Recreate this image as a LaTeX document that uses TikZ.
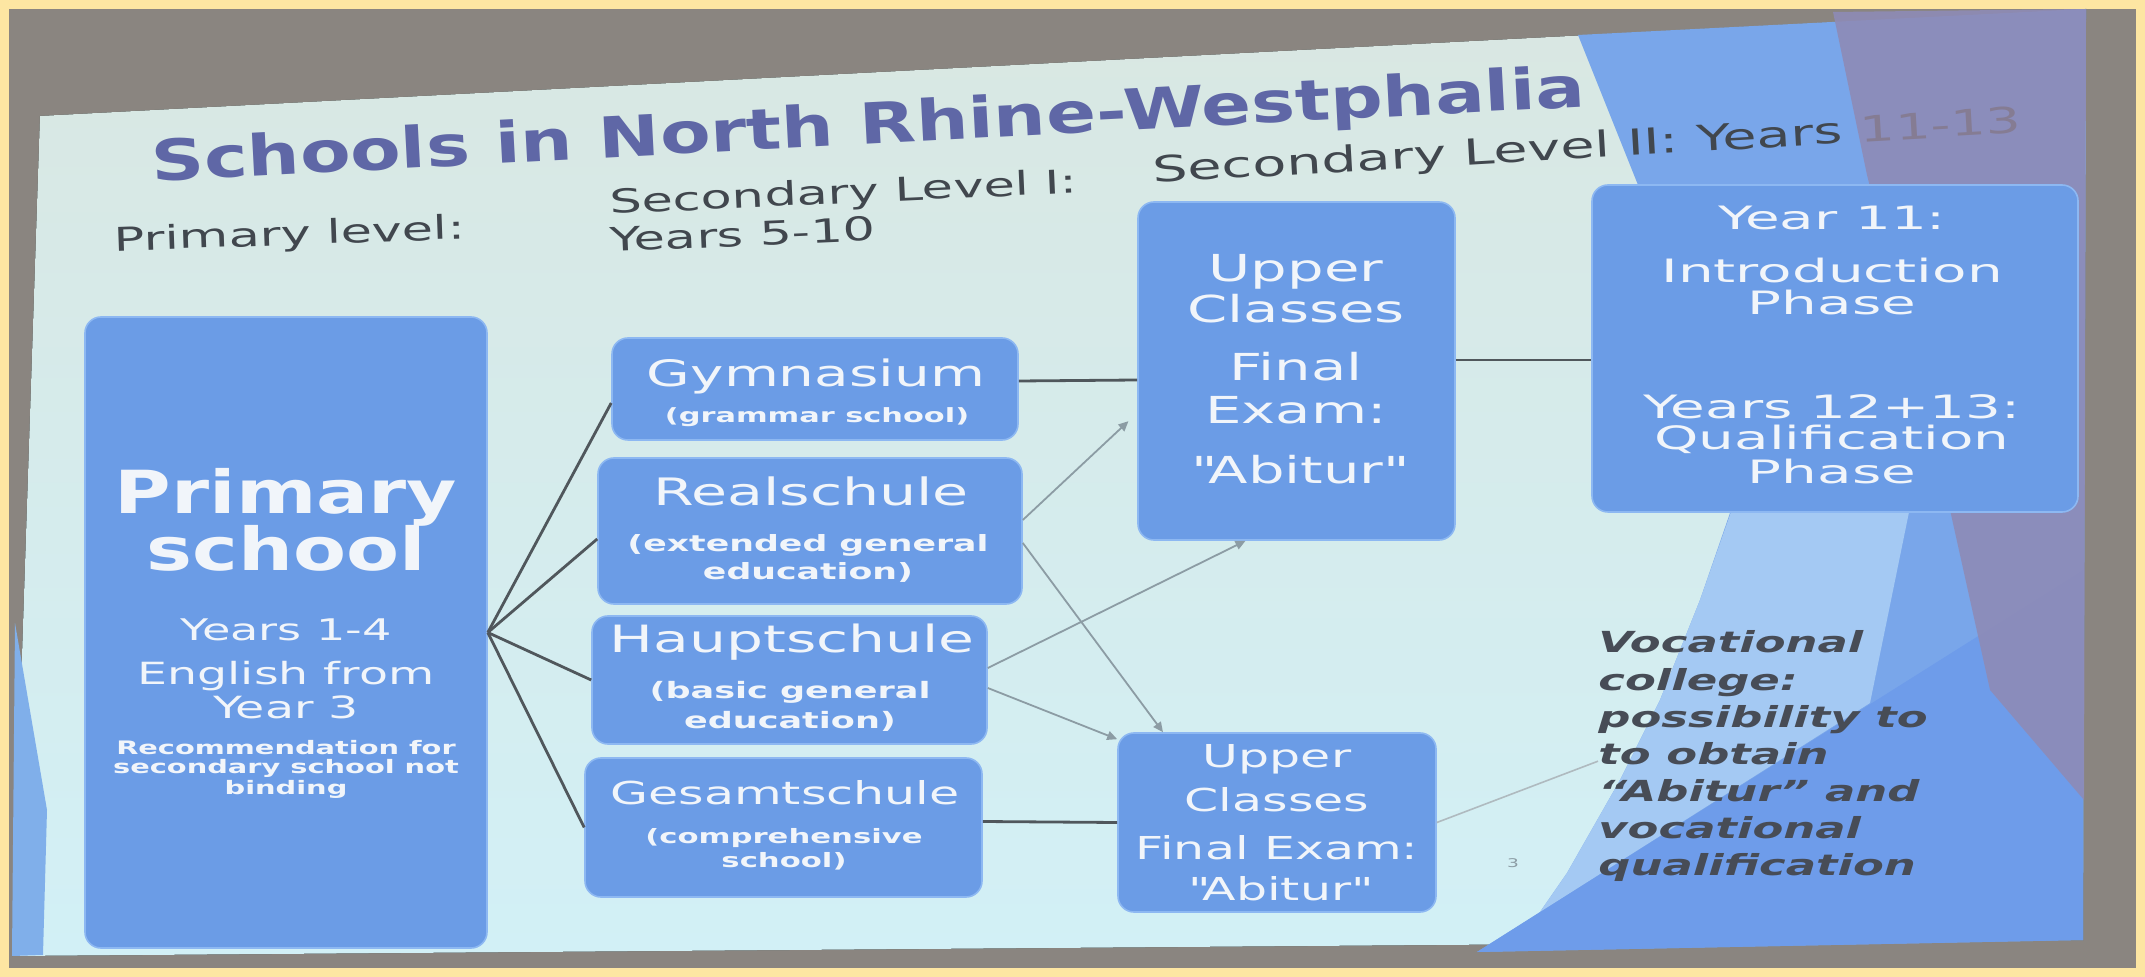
\documentclass[tikz,border=0pt]{standalone}
\usepackage{fontspec}
\setmainfont{DejaVu Sans}[FakeStretch=1.55]
\newfontfamily\bigfont{DejaVu Sans}[FakeStretch=1.3]
\newfontfamily\widefont{DejaVu Sans}[FakeStretch=1.75]
\usetikzlibrary{calc,arrows.meta}
\definecolor{frameY}{HTML}{FDE6A2}
\definecolor{wall}{HTML}{8A8580}
\definecolor{slideTop}{HTML}{D9E7E2}
\definecolor{slideBot}{HTML}{D2F0F6}
\definecolor{bandBlue}{HTML}{79A6EA}
\definecolor{lightWedge}{HTML}{A4C9F3}
\definecolor{darkTri}{HTML}{6E9CEA}
\definecolor{purpleGrey}{HTML}{8E8BB6}
\definecolor{leftWedge}{HTML}{80AFEA}
\definecolor{boxFill}{HTML}{6B9CE6}
\definecolor{boxEdge}{HTML}{8DB8F2}
\definecolor{boxText}{HTML}{F1F5FA}
\definecolor{titleCol}{HTML}{5F67A6}
\definecolor{headCol}{HTML}{41474E}
\definecolor{faintCol}{HTML}{857C93}
\definecolor{lineDark}{HTML}{50575C}
\definecolor{lineLight}{HTML}{8C9CA4}
\definecolor{vocCol}{HTML}{474C56}
\newcommand{\fsz}[1]{\fontsize{#1}{#1}\selectfont}
\newcommand{\sq}{\XeTeXglyph\XeTeXcharglyph"22\relax}
\tikzset{
  schoolbox/.style={draw=boxEdge, line width=0.8pt, fill=boxFill, rounded corners=8pt, inner sep=0pt},
  boxtxt/.style={text=boxText, inner sep=0pt, anchor=base},
  headtxt/.style={text=headCol, inner sep=0pt, anchor=base west},
  voctxt/.style={text=vocCol, inner sep=0pt, anchor=base west, font=\bfseries\itshape\fsz{14.5}},
  darkline/.style={draw=lineDark, line width=1.4pt},
  thinarrow/.style={draw=lineLight, line width=0.9pt, -{Triangle[length=5pt,width=4.5pt]}},
  thinline/.style={draw=lineLight!70!white, line width=0.8pt},
}
\begin{document}
\begin{tikzpicture}[x=0.5pt,y=-0.5pt]
\useasboundingbox (0,0) rectangle (2145,977);
% photo frame and wall
\fill[frameY] (0,0) rectangle (2145,977);
\fill[wall] (9,9) rectangle (2136,968);
% slide
\fill[top color=slideTop, bottom color=slideBot] (40,116) -- (2086,9) -- (2083,940) -- (12,956) -- cycle;
\fill[leftWedge] (15,623) -- (47,810) -- (43,955) -- (12,956) -- cycle;
% right-hand decoration
\fill[bandBlue] (1578,35) -- (2086,9) -- (2083,940) -- (1477,952) -- (1540,912) -- (1567,873) -- (1620,780)
  -- (1660,700) -- (1700,600) -- (1731,510) -- (1660,250) -- (1640,190) -- cycle;
\fill[lightWedge] (1731,512) -- (1909,512) -- (1870,703) -- (1540,912) -- (1567,873) -- (1620,780) -- (1660,700) -- (1700,600) -- cycle;
\fill[darkTri] (1477,952) -- (2083,570) -- (2083,940) -- cycle;
\fill[purpleGrey, opacity=0.9] (1833,12) -- (2086,9) -- (2084,800) -- (1990,690) -- (1950,510) -- (1867,175) -- cycle;

% title and headers
\node[text=titleCol, font=\bigfont\bfseries\fsz{28.3}, inner sep=0pt, anchor=base, rotate=3] (title) at (869,144) {Schools in North Rhine-Westphalia};
\node[text=headCol, font=\fsz{16.4}, inner sep=0pt, anchor=base, rotate=2] (hPrim) at (290,245) {Primary level:};
\node[headtxt, font=\fsz{16.4}, rotate=2.6] (hSecA) at (610,214) {Secondary Level I:};
\node[headtxt, font=\fsz{16.4}, rotate=2.5] (hSecB) at (610,252) {Years 5-10};
\node[headtxt, font=\fsz{17.9}, rotate=3.3] (hSecII) at (1153,183) {Secondary Level II: Years {\color{faintCol}11-13}};

% boxes
\node[schoolbox, minimum width=201pt, minimum height=315.5pt] (primary) at (286,632.5) {};
\node[schoolbox, minimum width=203pt, minimum height=51pt] (gym) at (815,389) {};
\node[schoolbox, minimum width=212pt, minimum height=73pt] (real) at (810,531) {};
\node[schoolbox, minimum width=197.5pt, minimum height=64pt] (haupt) at (789.5,680) {};
\node[schoolbox, minimum width=198.5pt, minimum height=69.5pt] (gesamt) at (783.5,827.5) {};
\node[schoolbox, minimum width=158.5pt, minimum height=169pt] (upperA) at (1296.5,371) {};
\node[schoolbox, minimum width=243pt, minimum height=163.5pt] (phases) at (1835,348.5) {};
\node[schoolbox, minimum width=159pt, minimum height=89.5pt] (upperB) at (1277,822.5) {};

% primary school text
\node[boxtxt, font=\bigfont\bfseries\fsz{29.7}] (pA) at (286,514) {Primary};
\node[boxtxt, font=\bigfont\bfseries\fsz{29.7}] (pB) at (286,571) {school};
\node[boxtxt, font=\fsz{14.9}] (pC) at (286,640) {Years 1-4};
\node[boxtxt, font=\fsz{15.3}] (pD) at (286,684) {English from};
\node[boxtxt, font=\fsz{15.3}] (pE) at (286,718) {Year 3};
\node[boxtxt, font=\bfseries\fsz{9.3}] (pF) at (286,754) {Recommendation for};
\node[boxtxt, font=\bfseries\fsz{9.3}] (pG) at (286,773) {secondary school not};
\node[boxtxt, font=\bfseries\fsz{9.3}] (pH) at (286,794) {binding};

% secondary level I texts
\node[boxtxt, font=\fsz{18.2}] (gA) at (816,387) {Gymnasium};
\node[boxtxt, font=\bfseries\fsz{9.8}] (gB) at (817,423) {(grammar school)};
\node[boxtxt, font=\fsz{18.9}] (rA) at (811,506) {Realschule};
\node[boxtxt, font=\bfseries\fsz{11.2}] (rB) at (808,552) {(extended general};
\node[boxtxt, font=\bfseries\fsz{11.2}] (rC) at (808,580) {education)};
\node[boxtxt, font=\fsz{18.8}] (hA) at (792,653) {Hauptschule};
\node[boxtxt, font=\bfseries\fsz{11.3}] (hB) at (790,698) {(basic general};
\node[boxtxt, font=\bfseries\fsz{11.3}] (hC) at (790,728) {education)};
\node[boxtxt, font=\fsz{15.8}] (sA) at (785,804) {Gesamtschule};
\node[boxtxt, font=\bfseries\fsz{9.9}] (sB) at (784,843) {(comprehensive};
\node[boxtxt, font=\bfseries\fsz{9.9}] (sC) at (784,867) {school)};

% upper classes (top)
\node[boxtxt, font=\fsz{18.6}] (uA1) at (1296,282) {Upper};
\node[boxtxt, font=\fsz{18.6}] (uA2) at (1296,323) {Classes};
\node[boxtxt, font=\fsz{18.6}] (uA3) at (1296,381) {Final};
\node[boxtxt, font=\fsz{18.6}] (uA4) at (1296,424) {Exam:};
\node[boxtxt, font=\fsz{18.6}] (uA5) at (1296,484) {\sq Abitur\sq};

% phases
\node[boxtxt, font=\widefont\fsz{16.1}] (yA) at (1832,230) {Year 11:};
\node[boxtxt, font=\widefont\fsz{16.1}] (yB) at (1832,283) {Introduction};
\node[boxtxt, font=\widefont\fsz{16.1}] (yC) at (1832,315) {Phase};
\node[boxtxt, font=\widefont\fsz{16.1}] (yD) at (1832,419) {Years 12+13:};
\node[boxtxt, font=\widefont\fsz{16.1}] (yE) at (1832,450) {Qualification};
\node[boxtxt, font=\widefont\fsz{16.1}] (yF) at (1832,484) {Phase};

% upper classes (bottom)
\node[boxtxt, font=\fsz{15.8}] (uB1) at (1277,767) {Upper};
\node[boxtxt, font=\fsz{15.8}] (uB2) at (1277,811) {Classes};
\node[boxtxt, font=\fsz{15.8}] (uB3) at (1277,859) {Final Exam:};
\node[boxtxt, font=\fsz{15.8}] (uB4) at (1277,900) {\sq Abitur\sq};

% vocational college
\node[voctxt] (voc1) at (1598,653) {Vocational};
\node[voctxt] (voc2) at (1598,690) {college:};
\node[voctxt] (voc3) at (1598,727) {possibility to};
\node[voctxt] (voc4) at (1598,764) {to obtain};
\node[voctxt] (voc5) at (1598,801) {“Abitur” and};
\node[voctxt] (voc6) at (1598,838) {vocational};
\node[voctxt] (voc7) at (1598,875) {qualification};

\node[text=lineLight, font=\fsz{6}, inner sep=0pt] (pagenum) at (1513,863) {3};

% connectors
\draw[darkline] (primary.east) -- ($(gym.west)+(0,14)$);
\draw[darkline] (primary.east) -- ($(real.west)+(0,8)$);
\draw[darkline] (primary.east) -- (haupt.west);
\draw[darkline] (primary.east) -- (gesamt.west);
\draw[darkline] ($(gym.east)+(0,-8)$) -- ($(upperA.west)+(0,9)$);
\draw[darkline] ($(upperA.east)+(0,-11)$) -- ($(phases.west)+(0,11.5)$);
\draw[darkline] ($(gesamt.east)+(0,-6)$) -- (upperB.west);

\draw[thinarrow, shorten >=6pt] ($(real.east)+(0,-11)$) -- ($(upperA.west)+(0,42)$);
\draw[thinarrow] ($(real.east)+(0,12)$) -- ($(upperB.north)+(-114,0)$);
\draw[thinarrow] ($(haupt.east)+(0,-12)$) -- ($(upperA.south)+(-51,0)$);
\draw[thinarrow] ($(haupt.east)+(0,8)$) -- ($(upperB.north west)+(0,7)$);
\draw[thinline] (upperB.east) -- ($(voc4.west)+(0,8)$);
\end{tikzpicture}
\end{document}
